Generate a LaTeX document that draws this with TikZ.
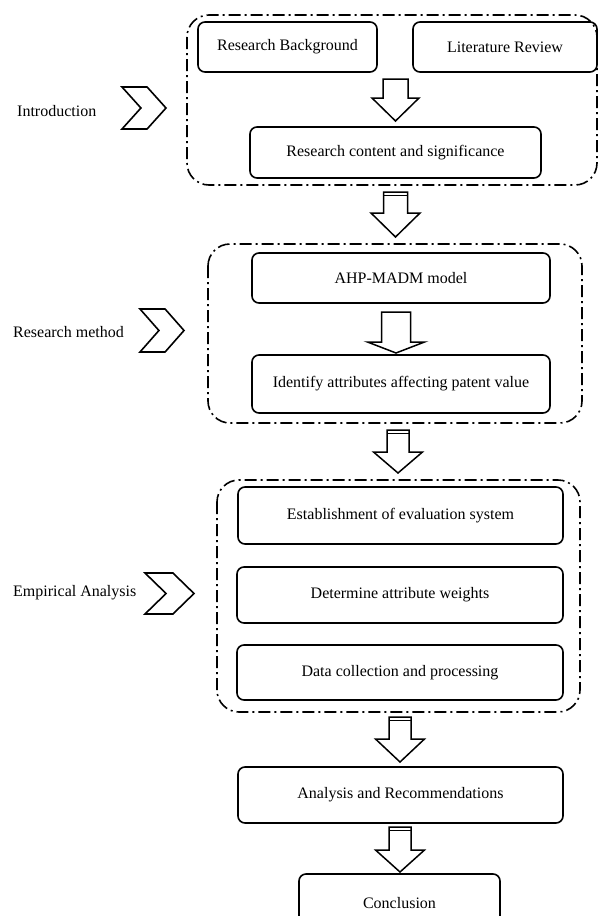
\documentclass[tikz,border=0pt]{standalone}
\usepackage{fontspec}
\setmainfont{Liberation Serif}
\newcommand\blockarr[6]{%
  \draw[barrow] ({#1-#2},#4) -- ({#1+#2},#4) -- ({#1+#2},#5) -- ({#1+#3},#5) -- (#1,#6) -- ({#1-#3},#5) -- ({#1-#2},#5) -- cycle;}
\newcommand\stripe[3]{%
  \draw[line width=1.6pt] ({#1-#2},{#3+3.6}) -- ({#1+#2},{#3+3.6});}
\newcommand\chev[4]{% x, top, width, height
  \draw[chevstyle] (#1,#2) -- ({#1+0.57*#3},#2) -- ({#1+#3},{#2+#4/2}) -- ({#1+0.57*#3},{#2+#4}) -- (#1,{#2+#4}) -- ({#1+0.43*#3},{#2+#4/2}) -- cycle;}
\begin{document}
\begin{tikzpicture}[x=1pt,y=-1pt,
  box/.style={draw, line width=1.6pt, rounded corners=7pt, font=\fontsize{16}{19}\selectfont, inner sep=0pt, align=center},
  grp/.style={draw, line width=1.6pt, rounded corners=22pt, dash pattern=on 12pt off 4pt on 2pt off 4pt},
  barrow/.style={draw, line width=1.5pt, fill=white, line join=miter},
  chevstyle/.style={draw, line width=1.6pt, line join=miter},
  lbl/.style={font=\fontsize{16}{19}\selectfont, anchor=west, inner sep=0pt}]
\useasboundingbox (0,0) rectangle (598,916);
\clip (0,0) rectangle (598,916);
\fill[white] (0,0) rectangle (598,916);

% groups
\draw[grp] (187,15) rectangle (597,185);
\draw[grp] (208,244) rectangle (582,423);
\draw[grp] (217,480) rectangle (580,712);

% boxes
\node[box, minimum width=179pt, minimum height=50pt] (rb) at (287.5,47) {Research Background};
\node[box, minimum width=184pt, minimum height=50pt] (lr) at (505,47) {Literature Review};
\node[box, minimum width=291pt, minimum height=51pt] (rcs) at (395.5,152.5) {Research content and significance};
\node[box, minimum width=298pt, minimum height=50pt] (ahp) at (401,278) {AHP-MADM model};
\node[box, minimum width=298pt, minimum height=58pt] (iden) at (401,384) {Identify attributes affecting patent value};
\node[box, minimum width=325pt, minimum height=57pt] (est) at (400.5,515.5) {Establishment of evaluation system};
\node[box, minimum width=326pt, minimum height=56pt] (det) at (400,595) {Determine attribute weights};
\node[box, minimum width=326pt, minimum height=55pt] (dat) at (400,672.5) {Data collection and processing};
\node[box, minimum width=325pt, minimum height=56pt] (ana) at (400.5,795) {Analysis and Recommendations};
\node[box, minimum width=201pt, minimum height=58pt] (con) at (399.5,903) {Conclusion};

% block arrows
\blockarr{395.5}{12.5}{23.5}{79}{98}{121}
\blockarr{395.5}{12}{24.5}{192}{213}{237}\stripe{395.5}{12}{192}
\blockarr{396}{14.5}{28.5}{312}{342}{353}
\blockarr{398}{11}{24.5}{430}{452}{473}\stripe{398}{11}{430}
\blockarr{400}{11}{24.5}{717}{739}{762}\stripe{400}{11}{717}
\blockarr{400}{11}{24.5}{827}{850}{872}\stripe{400}{11}{827}

% side labels and chevrons
\node[lbl] (lintro) at (17,111) {Introduction};
\chev{122}{87}{44}{42}
\node[lbl] (lmeth) at (13,332) {Research method};
\chev{140}{309}{44}{43}
\node[lbl] (lemp) at (13,593) {Empirical Analysis};
\chev{145}{573}{49}{41}
\end{tikzpicture}
\end{document}
